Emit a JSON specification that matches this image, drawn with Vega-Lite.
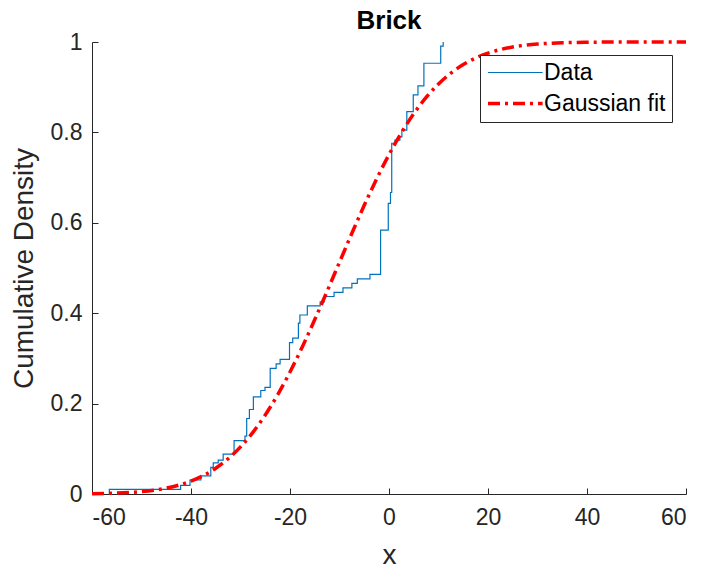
{
  "$schema": "https://vega.github.io/schema/vega-lite/v6.json",
  "width": 594,
  "height": 452,
  "autosize": {"type": "none"},
  "padding": {"left": 92, "top": 42, "right": 18, "bottom": 81},
  "background": "white",
  "config": {
    "font": "Liberation Sans",
    "view": {"stroke": null},
    "axis": {
      "grid": false,
      "domainColor": "#262626",
      "domainWidth": 1,
      "tickColor": "#262626",
      "tickWidth": 1,
      "tickSize": -6,
      "labelColor": "#262626",
      "labelFont": "Liberation Sans",
      "labelFontSize": 23,
      "titleColor": "#262626",
      "titleFont": "Liberation Sans",
      "titleFontSize": 28,
      "titleFontWeight": "normal"
    }
  },
  "title": {
    "text": "Brick",
    "font": "Liberation Sans",
    "fontSize": 26,
    "fontWeight": "bold",
    "color": "#000000",
    "anchor": "middle",
    "frame": "group",
    "baseline": "alphabetic",
    "offset": 12,
    "dy": 36
  },
  "datasets": {
    "ecdf": [
      {"x": -56.5, "y": 0, "series": "Data"},
      {"x": -56.5, "y": 0.0104, "series": "Data"},
      {"x": -42.1, "y": 0.0192, "series": "Data"},
      {"x": -40.2, "y": 0.031, "series": "Data"},
      {"x": -38.0, "y": 0.040, "series": "Data"},
      {"x": -36.0, "y": 0.059, "series": "Data"},
      {"x": -35.5, "y": 0.069, "series": "Data"},
      {"x": -34.5, "y": 0.075, "series": "Data"},
      {"x": -33.5, "y": 0.088, "series": "Data"},
      {"x": -31.3, "y": 0.118, "series": "Data"},
      {"x": -29.1, "y": 0.128, "series": "Data"},
      {"x": -28.75, "y": 0.167, "series": "Data"},
      {"x": -28.2, "y": 0.187, "series": "Data"},
      {"x": -27.4, "y": 0.215, "series": "Data"},
      {"x": -25.9, "y": 0.229, "series": "Data"},
      {"x": -25.05, "y": 0.236, "series": "Data"},
      {"x": -24.0, "y": 0.278, "series": "Data"},
      {"x": -22.8, "y": 0.288, "series": "Data"},
      {"x": -22.0, "y": 0.298, "series": "Data"},
      {"x": -20.1, "y": 0.335, "series": "Data"},
      {"x": -19.45, "y": 0.345, "series": "Data"},
      {"x": -18.3, "y": 0.378, "series": "Data"},
      {"x": -18.0, "y": 0.396, "series": "Data"},
      {"x": -16.5, "y": 0.416, "series": "Data"},
      {"x": -13.9, "y": 0.425, "series": "Data"},
      {"x": -13.1, "y": 0.437, "series": "Data"},
      {"x": -11.1, "y": 0.446, "series": "Data"},
      {"x": -9.3, "y": 0.456, "series": "Data"},
      {"x": -7.5, "y": 0.466, "series": "Data"},
      {"x": -6.4, "y": 0.476, "series": "Data"},
      {"x": -3.85, "y": 0.486, "series": "Data"},
      {"x": -1.7, "y": 0.584, "series": "Data"},
      {"x": -0.15, "y": 0.643, "series": "Data"},
      {"x": 0.3, "y": 0.667, "series": "Data"},
      {"x": 0.55, "y": 0.776, "series": "Data"},
      {"x": 1.2, "y": 0.783, "series": "Data"},
      {"x": 2.2, "y": 0.790, "series": "Data"},
      {"x": 2.6, "y": 0.805, "series": "Data"},
      {"x": 3.6, "y": 0.846, "series": "Data"},
      {"x": 4.9, "y": 0.883, "series": "Data"},
      {"x": 5.85, "y": 0.903, "series": "Data"},
      {"x": 7.05, "y": 0.953, "series": "Data"},
      {"x": 10.45, "y": 0.991, "series": "Data"},
      {"x": 10.95, "y": 1.0, "series": "Data"}
    ],
    "fit": [
      {"x": -60, "y": 0.0007, "series": "Gaussian fit"},
      {"x": -57.5, "y": 0.0012, "series": "Gaussian fit"},
      {"x": -55, "y": 0.0020, "series": "Gaussian fit"},
      {"x": -52.5, "y": 0.0034, "series": "Gaussian fit"},
      {"x": -50, "y": 0.0054, "series": "Gaussian fit"},
      {"x": -47.5, "y": 0.0085, "series": "Gaussian fit"},
      {"x": -45, "y": 0.0130, "series": "Gaussian fit"},
      {"x": -42.5, "y": 0.0195, "series": "Gaussian fit"},
      {"x": -40, "y": 0.0285, "series": "Gaussian fit"},
      {"x": -37.5, "y": 0.0408, "series": "Gaussian fit"},
      {"x": -35, "y": 0.0570, "series": "Gaussian fit"},
      {"x": -32.5, "y": 0.0779, "series": "Gaussian fit"},
      {"x": -30, "y": 0.1042, "series": "Gaussian fit"},
      {"x": -27.5, "y": 0.1364, "series": "Gaussian fit"},
      {"x": -25, "y": 0.1748, "series": "Gaussian fit"},
      {"x": -22.5, "y": 0.2194, "series": "Gaussian fit"},
      {"x": -20, "y": 0.2700, "series": "Gaussian fit"},
      {"x": -17.5, "y": 0.3258, "series": "Gaussian fit"},
      {"x": -15, "y": 0.3859, "series": "Gaussian fit"},
      {"x": -12.5, "y": 0.4487, "series": "Gaussian fit"},
      {"x": -10, "y": 0.5128, "series": "Gaussian fit"},
      {"x": -7.5, "y": 0.5768, "series": "Gaussian fit"},
      {"x": -5, "y": 0.6387, "series": "Gaussian fit"},
      {"x": -2.5, "y": 0.6971, "series": "Gaussian fit"},
      {"x": 0, "y": 0.7509, "series": "Gaussian fit"},
      {"x": 2.5, "y": 0.7992, "series": "Gaussian fit"},
      {"x": 5, "y": 0.8413, "series": "Gaussian fit"},
      {"x": 7.5, "y": 0.8773, "series": "Gaussian fit"},
      {"x": 10, "y": 0.9070, "series": "Gaussian fit"},
      {"x": 12.5, "y": 0.9311, "series": "Gaussian fit"},
      {"x": 15, "y": 0.9500, "series": "Gaussian fit"},
      {"x": 17.5, "y": 0.9646, "series": "Gaussian fit"},
      {"x": 20, "y": 0.9755, "series": "Gaussian fit"},
      {"x": 22.5, "y": 0.9834, "series": "Gaussian fit"},
      {"x": 25, "y": 0.9890, "series": "Gaussian fit"},
      {"x": 27.5, "y": 0.9929, "series": "Gaussian fit"},
      {"x": 30, "y": 0.9955, "series": "Gaussian fit"},
      {"x": 32.5, "y": 0.9972, "series": "Gaussian fit"},
      {"x": 35, "y": 0.9983, "series": "Gaussian fit"},
      {"x": 37.5, "y": 0.9990, "series": "Gaussian fit"},
      {"x": 40, "y": 0.9994, "series": "Gaussian fit"},
      {"x": 42.5, "y": 0.9997, "series": "Gaussian fit"},
      {"x": 45, "y": 0.9998, "series": "Gaussian fit"},
      {"x": 47.5, "y": 0.9999, "series": "Gaussian fit"},
      {"x": 50, "y": 1.0, "series": "Gaussian fit"},
      {"x": 52.5, "y": 1.0, "series": "Gaussian fit"},
      {"x": 55, "y": 1.0, "series": "Gaussian fit"},
      {"x": 57.5, "y": 1.0, "series": "Gaussian fit"},
      {"x": 60, "y": 1.0, "series": "Gaussian fit"}
    ]
  },
  "encoding": {
    "x": {
      "field": "x",
      "type": "quantitative",
      "scale": {"domain": [-60, 60], "nice": false, "zero": false},
      "axis": {
        "title": "x",
        "values": [-60, -40, -20, 0, 20, 40, 60],
        "labelExpr": "'' + datum.value",
        "labelPadding": 18,
        "titlePadding": 12
      }
    },
    "y": {
      "field": "y",
      "type": "quantitative",
      "scale": {"domain": [0, 1], "nice": false},
      "axis": {
        "title": "Cumulative Density",
        "values": [0, 0.2, 0.4, 0.6, 0.8, 1],
        "labelExpr": "'' + datum.value",
        "labelPadding": 16,
        "titlePadding": 12
      }
    },
    "color": {
      "field": "series",
      "type": "nominal",
      "scale": {"domain": ["Data", "Gaussian fit"], "range": ["#0072BD", "#FF0000"]},
      "legend": {
        "title": null,
        "orient": "none",
        "legendX": 388,
        "legendY": 13,
        "symbolType": "M-1,0H4.2",
        "symbolSize": 441,
        "labelOffset": 33,
        "labelFont": "Liberation Sans",
        "labelFontSize": 23,
        "labelColor": "#000000",
        "strokeColor": "#262626",
        "fillColor": "#ffffff",
        "padding": 6,
        "rowPadding": 6
      }
    },
    "strokeDash": {
      "field": "series",
      "type": "nominal",
      "scale": {"domain": ["Data", "Gaussian fit"], "range": [[1, 0], [12, 5, 3, 5]]},
      "legend": null
    },
    "strokeWidth": {
      "field": "series",
      "type": "nominal",
      "scale": {"domain": ["Data", "Gaussian fit"], "range": [1.2, 3.5]},
      "legend": null
    }
  },
  "layer": [
    {
      "data": {"name": "ecdf"},
      "mark": {"type": "line", "interpolate": "step-after"}
    },
    {
      "data": {"name": "fit"},
      "mark": {"type": "line", "interpolate": "monotone"}
    }
  ]
}
